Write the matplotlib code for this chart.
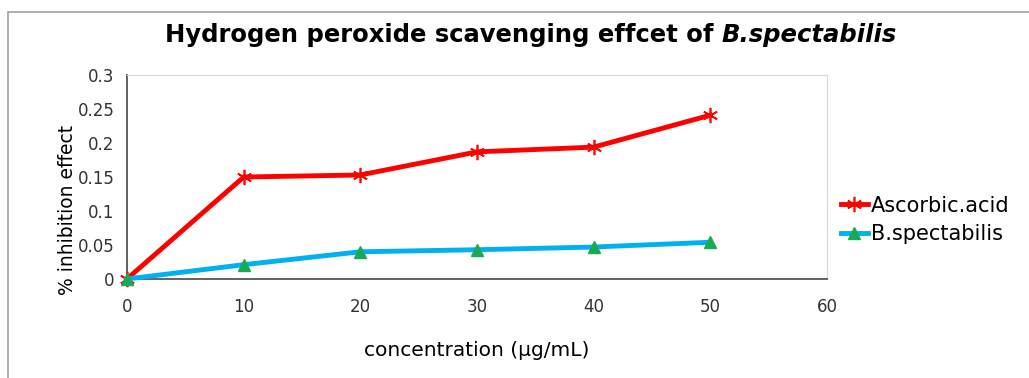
import matplotlib.pyplot as plt
from matplotlib.patches import Rectangle

conc = [0, 10, 20, 30, 40, 50]
ascorbic = [0.0, 0.150, 0.153, 0.187, 0.194, 0.241]
spectabilis = [0.0, 0.021, 0.040, 0.043, 0.047, 0.054]
yticks = [0, 0.05, 0.1, 0.15, 0.2, 0.25, 0.3]
yticklabels = ['0', '0.05', '0.1', '0.15', '0.2', '0.25', '0.3']
xticks = [0, 10, 20, 30, 40, 50, 60]

plt.rcParams['font.family'] = ['DejaVu Sans']

fig = plt.figure(figsize=(10.29, 3.78), dpi=100)
# outer frame of the chart area
fig.patches.append(Rectangle((8 / 1029, -0.1), 1.2, 1 - 12 / 378 + 0.1,
                             transform=fig.transFigure, fill=False,
                             edgecolor='#a0a0a0', linewidth=1.2))

ax = fig.add_axes([0.1234, 0.262, 0.6803, 0.5394])

ax.plot(conc, ascorbic, color='#ff0000', linewidth=3.5, marker=(6, 2, 0),
        markersize=11, markeredgewidth=1.2, markeredgecolor='#ff0000',
        label='Ascorbic.acid', clip_on=False, zorder=3)
ax.plot(conc, spectabilis, color='#00b0f0', linewidth=3.5, marker='^',
        markersize=9, markerfacecolor='#1aaa55', markeredgecolor='#1aaa55',
        label='B.spectabilis', clip_on=False, zorder=3)

ax.set_xlim(0, 60)
ax.set_ylim(0, 0.3)
ax.set_xticks(xticks)
ax.set_yticks(yticks)
ax.set_yticklabels(yticklabels)
ax.tick_params(length=0, labelsize=12, labelcolor='#333333')
ax.tick_params(axis='x', pad=14)
ax.tick_params(axis='y', pad=9)

for s in ['top', 'right']:
    ax.spines[s].set_color('#d9d9d9')
for s in ['left', 'bottom']:
    ax.spines[s].set_color('#555555')
    ax.spines[s].set_linewidth(1.3)

ax.set_xlabel('concentration (µg/mL)', fontsize=14.5, labelpad=18)
fig.text(0.066, 0.445, '% inhibition effect', rotation=90, fontsize=13.5,
         ha='center', va='center')

leg = ax.legend(loc='center left', bbox_to_anchor=(1.008, 0.29), frameon=False,
                fontsize=15, handlelength=1.3, handletextpad=0.15,
                labelspacing=0.4, borderaxespad=0)

t1 = fig.text(0.16, 0.907, 'Hydrogen peroxide scavenging effcet of ',
              fontsize=17.5, fontweight='bold', ha='left', va='center')
fig.canvas.draw()
ax.annotate('B.spectabilis', xy=(1, 0.5), xycoords=t1, va='center',
            ha='left', fontsize=17.5, fontweight='bold', fontstyle='italic')

fig.savefig('out.png', dpi=100)
